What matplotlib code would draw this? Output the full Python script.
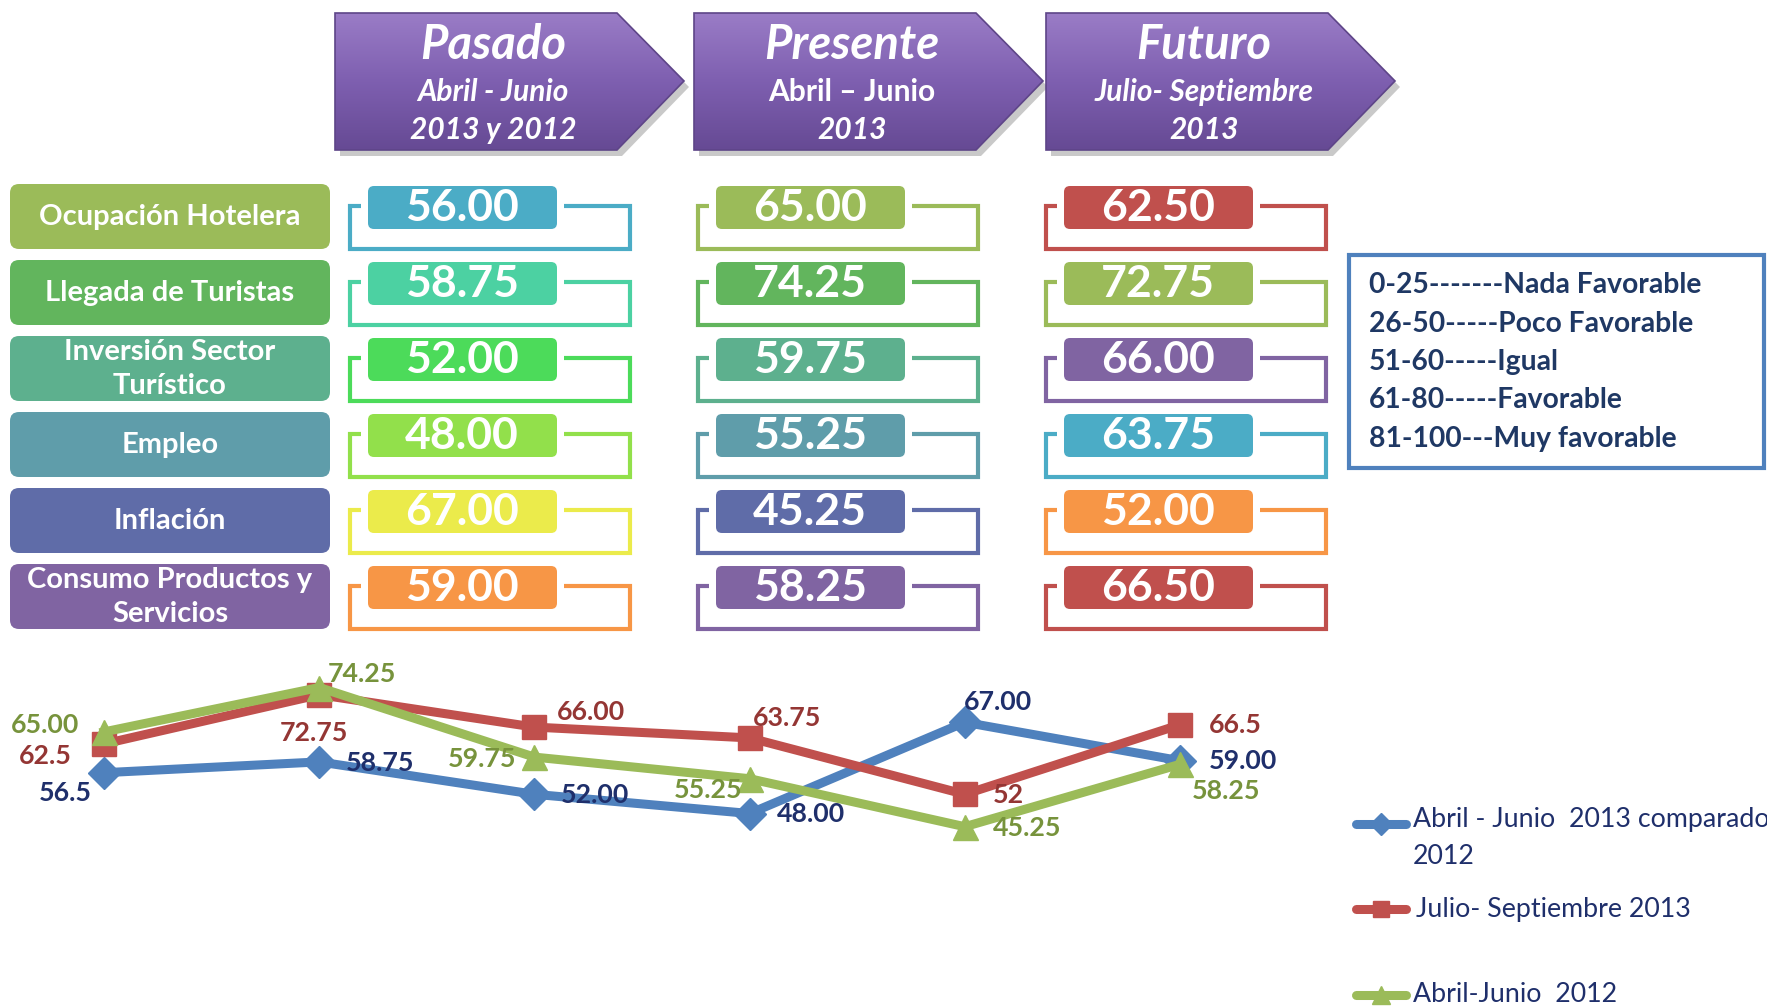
import matplotlib.pyplot as plt
import numpy as np
from matplotlib.patches import FancyBboxPatch, Polygon, Rectangle
from matplotlib.colors import LinearSegmentedColormap

plt.rcParams['font.family'] = ['Lato', 'DejaVu Sans']

# Indicadores y valores por periodo
categorias = ['Ocupación Hotelera', 'Llegada de Turistas', 'Inversión Sector\nTurístico',
              'Empleo', 'Inflación', 'Consumo Productos y\nServicios']
colores_cat = ['#9BBB59', '#62B55D', '#5DB08E', '#5F9DAA', '#5F6CA8', '#8064A2']

pasado = [56.00, 58.75, 52.00, 48.00, 67.00, 59.00]
presente = [65.00, 74.25, 59.75, 55.25, 45.25, 58.25]
futuro = [62.50, 72.75, 66.00, 63.75, 52.00, 66.50]

colores_pasado = ['#4BACC6', '#4CD1A2', '#4CDB5A', '#92E04B', '#EBEB4B', '#F79646']
colores_presente = colores_cat
colores_futuro = ['#C0504D', '#9BBB59', '#8064A2', '#4BACC6', '#F79646', '#C0504D']

periodos = [('Pasado', 'Abril - Junio', '2013 y 2012'),
            ('Presente', 'Abril – Junio', '2013'),
            ('Futuro', 'Julio- Septiembre', '2013')]

escala = ['0-25-------Nada Favorable', '26-50-----Poco Favorable', '51-60-----Igual',
          '61-80-----Favorable', '81-100---Muy favorable']

# Series de la gráfica de líneas
serie_azul = [56.5, 58.75, 52.00, 48.00, 67.00, 59.00]
serie_roja = [62.5, 72.75, 66.00, 63.75, 52, 66.5]
serie_verde = [65.00, 74.25, 59.75, 55.25, 45.25, 58.25]
etiq_azul = ['56.5', '58.75', '52.00', '48.00', '67.00', '59.00']
etiq_roja = ['62.5', '72.75', '66.00', '63.75', '52', '66.5']
etiq_verde = ['65.00', '74.25', '59.75', '55.25', '45.25', '58.25']
nombres = ['Abril - Junio  2013 comparado\n2012', 'Julio- Septiembre 2013', 'Abril-Junio  2012']

W, H = 1767, 1006
fig = plt.figure(figsize=(W / 100, H / 100), dpi=100)
ax = fig.add_axes([0, 0, 1, 1])
ax.set_xlim(0, W)
ax.set_ylim(H, 0)
ax.axis('off')

# Flechas de encabezado con degradado morado
cmap_flecha = LinearSegmentedColormap.from_list('flecha', ['#9A7CC6', '#7E5FB0', '#664A94'])
grad = np.linspace(0, 1, 200).reshape(-1, 1)
for i, (titulo, sub1, sub2) in enumerate(periodos):
    L = [335, 694, 1046][i]
    pts = [(L, 13), (L + 282, 13), (L + 349, 81), (L + 282, 150), (L, 150)]
    sombra = Polygon([(x + 5, y + 6) for x, y in pts], closed=True, fc='#888888',
                     ec='none', alpha=0.45, zorder=1)
    ax.add_patch(sombra)
    poly = Polygon(pts, closed=True, fc='none', ec='#5E4588', lw=1.2, zorder=3)
    ax.add_patch(poly)
    im = ax.imshow(grad, cmap=cmap_flecha, extent=(L, L + 349, 150, 13),
                   aspect='auto', zorder=2, origin='upper')
    im.set_clip_path(poly)
    cx = L + 158
    ax.text(cx, 45, titulo, color='white', fontsize=34, fontweight='bold',
            fontstyle='italic', ha='center', va='center', zorder=4)
    ax.text(cx, 92, sub1, color='white', fontsize=21.5, fontweight='bold',
            fontstyle='normal' if i == 1 else 'italic', ha='center', va='center', zorder=4)
    ax.text(cx, 130, sub2, color='white', fontsize=21.5, fontweight='bold',
            fontstyle='italic', ha='center', va='center', zorder=4)

# Filas de indicadores y cajas de valores
columnas = [(pasado, colores_pasado, 368), (presente, colores_presente, 716),
            (futuro, colores_futuro, 1064)]
for r, (cat, col) in enumerate(zip(categorias, colores_cat)):
    top = 184 + 76 * r
    ax.add_patch(FancyBboxPatch((10, top), 320, 65, boxstyle='round,pad=0,rounding_size=9',
                                fc=col, ec='none', zorder=2))
    ax.text(170, top + 33, cat, color='white', fontsize=21, fontweight='bold',
            ha='center', va='center', linespacing=1.35, zorder=3)
    for valores, colores, bx in columnas:
        c = colores[r]
        ax.add_patch(Rectangle((bx - 18, top + 22), 280, 43, fc='none', ec=c,
                               lw=3, zorder=2))
        ax.add_patch(Rectangle((bx - 7, top - 5), 203, 57, fc='white', ec='none', zorder=3))
        ax.add_patch(FancyBboxPatch((bx, top + 2), 189, 43,
                                    boxstyle='round,pad=0,rounding_size=6',
                                    fc=c, ec='none', zorder=4))
        ax.text(bx + 94, top + 24, f'{valores[r]:.2f}', color='white', fontsize=32,
                fontweight='bold', ha='center', va='center', zorder=5)

# Recuadro con la escala
ax.add_patch(Rectangle((1349, 255), 415, 213, fc='white', ec='#4F81BD', lw=3, zorder=2))
for k, linea in enumerate(escala):
    ax.text(1369, 285 + 38.5 * k, linea, color='#1F3864', fontsize=20.3,
            fontweight='bold', ha='left', va='center', zorder=3)

# Gráfica de líneas
x0, dx = 104, 215.2
y67, dy = 722.3, 4.80
xl = (-0.45, 5.45)
yl = (40, 80)
left_px = x0 + xl[0] * dx
right_px = x0 + xl[1] * dx
top_px = y67 - (yl[1] - 67) * dy
bot_px = y67 + (67 - yl[0]) * dy
lc = fig.add_axes([left_px / W, 1 - bot_px / H, (right_px - left_px) / W, (bot_px - top_px) / H])
lc.set_xlim(*xl)
lc.set_ylim(*yl)
lc.axis('off')
lc.patch.set_alpha(0)

x = np.arange(len(serie_azul))
series = [
    (serie_azul, etiq_azul, '#4F81BD', '#1F2F6B', 'D', 16,
     [(-39, -20), (61, -1), (61, -1), (61, -1), (33, 20), (63, 0)]),
    (serie_roja, etiq_roja, '#C0504D', '#943634', 's', 17,
     [(-59, -12), (-5, -38), (57, 15), (37, 20), (44, -1), (55, 0)]),
    (serie_verde, etiq_verde, '#9BBB59', '#77933C', '^', 18,
     [(-59, 7), (43, 14), (-52, -2), (-41, -11), (62, -1), (46, -27)]),
]
for vals, etqs, c, ct, m, ms, offs in series:
    lc.plot(x, vals, color=c, lw=6.5, marker=m, ms=ms, mec=c, mfc=c, clip_on=False,
            solid_joinstyle='miter')
    for xi, v, t, off in zip(x, vals, etqs, offs):
        lc.annotate(t, (xi, v), xytext=off, textcoords='offset pixels', color=ct,
                    fontsize=19.3, fontweight='bold', ha='center', va='center',
                    annotation_clip=False)

# Leyenda de las series
for k, ((vals, etqs, c, ct, m, ms, offs), nombre) in enumerate(zip(series, nombres)):
    yk = [824, 909, 995][k]
    ax.plot([1356, 1406], [yk, yk], color=c, lw=6.5, solid_capstyle='round', zorder=3)
    ax.plot([1381], [yk], marker=m, ms=ms * 0.7, color=c, zorder=3)
    if k == 0:
        ax.text(1413, yk - 17, nombre, color='#1F2F6B', fontsize=19.3, ha='left',
                va='top', linespacing=1.6, zorder=3)
    else:
        ax.text(1416 if k == 1 else 1413, yk, nombre, color='#1F2F6B', fontsize=19.3,
                ha='left', va='center', zorder=3)

fig.savefig('out.png', dpi=100)
